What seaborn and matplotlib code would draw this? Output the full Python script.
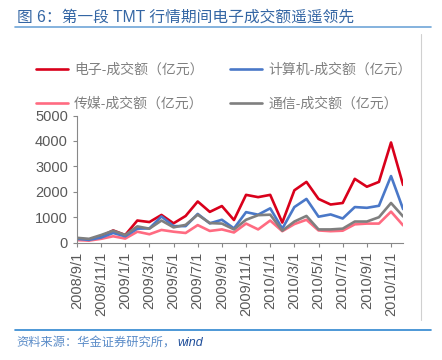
import pandas as pd
import matplotlib
matplotlib.use("Agg")
import matplotlib.pyplot as plt
import seaborn as sns

sns.set_style("white")
plt.rcParams['font.family'] = ['Liberation Sans', 'Noto Sans CJK SC']

# monthly turnover, 2008/9 - 2010/12 (亿元)
months = pd.date_range("2008-09-01", "2010-12-01", freq="MS")
dianzi = [150, 100, 250, 480, 300, 870, 810, 1090, 760, 1050, 1620, 1210, 1440, 890,
          1880, 1790, 1880, 790, 2060, 2390, 1720, 1500, 1560, 2510, 2200, 2390, 3940, 2270]
jisuanji = [150, 110, 200, 380, 250, 550, 560, 1030, 650, 650, 1130, 760, 900, 560,
            1200, 1100, 1350, 550, 1400, 1720, 1020, 1110, 950, 1400, 1370, 1450, 2620, 1320]
chuanmei = [100, 80, 150, 250, 160, 430, 330, 500, 430, 380, 690, 460, 520, 400,
            750, 520, 870, 450, 730, 900, 480, 450, 470, 720, 750, 750, 1220, 680]
tongxin = [190, 150, 300, 470, 300, 640, 550, 870, 600, 700, 1100, 770, 750, 520,
           900, 1080, 1100, 470, 830, 1050, 520, 520, 550, 830, 830, 1000, 1560, 1030]

names = ["电子-成交额（亿元）", "传媒-成交额（亿元）", "计算机-成交额（亿元）", "通信-成交额（亿元）"]
colors = ["#d9001b", "#ff6b81", "#4a78c8", "#7f7f7f"]
tick_labels = [f"{d.year}/{d.month}/1" for d in months[::2]]

idx = list(range(len(months)))
df = pd.DataFrame({"i": idx * 4,
                   "v": dianzi + chuanmei + jisuanji + tongxin,
                   "s": [n for n in names for _ in idx]})

fig = plt.figure(figsize=(4.42, 3.6), dpi=100)
ax = fig.add_axes([0.174, 0.326, 0.738, 0.353])
sns.lineplot(data=df, x="i", y="v", hue="s", hue_order=names, palette=colors,
             linewidth=1.9, ax=ax)

ax.set_xlim(0, 27)
ax.set_ylim(0, 5000)
ax.set_yticks(range(0, 5001, 1000))
ax.set_xticks(idx[::2])
ax.set_xticklabels(tick_labels, rotation=90)
ax.set_xlabel("")
ax.set_ylabel("")
ax.tick_params(axis="both", labelsize=10.5, labelcolor="#595959", color="#888888",
               length=3, width=0.8, direction="out", bottom=True, left=True)
for side in ["top", "right"]:
    ax.spines[side].set_visible(False)
for side in ["left", "bottom"]:
    ax.spines[side].set_color("#888888")
    ax.spines[side].set_linewidth(0.8)

ax.legend(loc="upper left", bbox_to_anchor=(0.081, 0.826), bbox_transform=fig.transFigure,
          ncol=2, frameon=False, fontsize=10, labelcolor="#808080", borderpad=0,
          borderaxespad=0, handlelength=2.3, handletextpad=0.45, columnspacing=1.9,
          labelspacing=1.45)

fig.text(0.038, 0.952, "图 6：第一段 TMT 行情期间电子成交额遥遥领先", fontsize=11.3,
         color="#3466a4", va="center")
fig.add_artist(plt.Line2D([0.034, 0.975], [0.925, 0.925], color="#6fa6d8", lw=1.2))
fig.add_artist(plt.Line2D([0.952, 0.952], [0.11, 0.905], color="#d0d0d0", lw=0.8))
fig.add_artist(plt.Line2D([0.034, 0.975], [0.083, 0.083], color="#2f86d0", lw=1.2))
fig.text(0.036, 0.047, "资料来源：华金证券研究所，", fontsize=8.8, color="#5b8cc8",
         style="italic", va="center")
fig.text(0.402, 0.047, "wind", fontsize=9, color="#1f4e9a", style="italic", va="center")

fig.savefig("out.png", dpi=100)
